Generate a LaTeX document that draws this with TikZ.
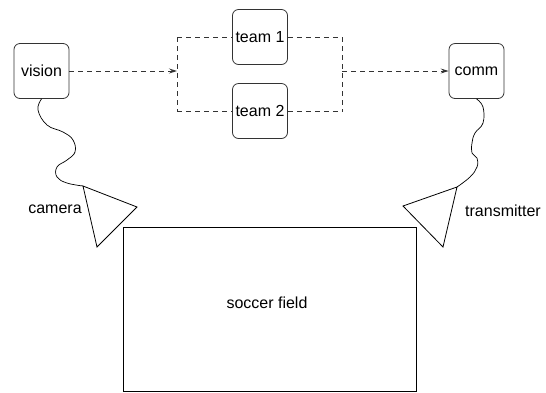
\documentclass[tikz,border=0pt]{standalone}
\usepackage{fontspec}
\setmainfont{Liberation Sans}
\usetikzlibrary{arrows.meta}
\begin{document}
\begin{tikzpicture}[x=1pt,y=-1pt,
  thick,box node/.style={rectangle,rounded corners=6pt,draw=black!80,minimum size=55pt,inner sep=0pt,font=\fontsize{16}{19}\selectfont},
  link/.style={dash pattern=on 5pt off 4pt,draw=black!80,line width=1pt},
  tip/.style={-{Stealth[length=8pt,width=5pt,inset=3pt]}},
  word/.style={font=\fontsize{16}{19}\selectfont}]
  \useasboundingbox (0,0) rectangle (546,392);

  \node[box node] (vision) at (41.5,71){vision};
  \node[box node] (team1) at (260,37){team 1};
  \node[box node] (team2) at (260,111){team 2};
  \node[box node] (comm) at (476.5,71){comm};

  \coordinate (tl) at (177,37);
  \coordinate (bl) at (177,111);
  \coordinate (tr) at (342,37);
  \coordinate (br) at (342,111);
  \coordinate (in) at (177,71);
  \coordinate (out) at (342,71);

  \path[link]
    (vision) edge[tip] (in)
    (tl) edge (team1)
    (team1) edge (tr)
    (bl) edge (team2)
    (team2) edge (br)
    (tl) edge (bl)
    (tr) edge (br)
    (out) edge[tip] (comm);

  % camera and transmitter
  \coordinate (cam1) at (83,186);
  \coordinate (cam2) at (137,207);
  \coordinate (cam3) at (97,247);
  \coordinate (tx1) at (457,187);
  \coordinate (tx2) at (403,206);
  \coordinate (tx3) at (443,247);
  \draw (cam1) -- (cam2) -- (cam3) -- cycle;
  \draw (tx1) -- (tx2) -- (tx3) -- cycle;
  \node[word] (camera) at (55,209){camera};
  \node[word] (transmitter) at (503,211){transmitter};

  \draw[line width=0.7pt] plot[smooth,tension=0.7] coordinates {(vision.south) (38,110) (47,125) (63,132) (73,140) (75,152) (67,160) (57,167) (57,177) (67,183) (cam1)};
  \draw[line width=0.7pt] plot[smooth,tension=0.7] coordinates {(comm.south) (483,107) (483,123) (475,133) (472,143) (472,153) (477,158) (477,167) (470,177) (tx1)};

  \node[draw,minimum width=293pt,minimum height=164pt] (field) at (269.5,309){};
  \node[word] (fieldname) at (267,303){soccer field};
\end{tikzpicture}
\end{document}
